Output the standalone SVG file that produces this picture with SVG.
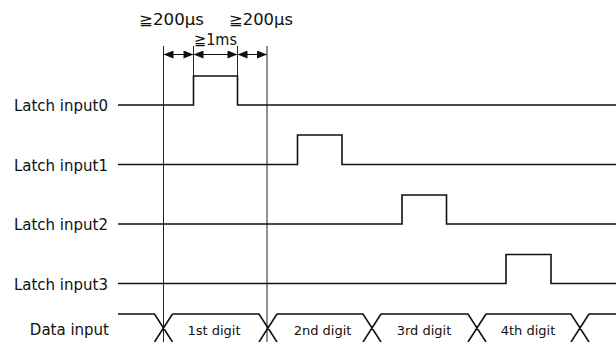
<svg xmlns="http://www.w3.org/2000/svg" width="616" height="342" viewBox="0 0 616 342">
<defs>
<style>
.sig{fill:none;stroke:#111;stroke-width:1.6}
.ref{fill:none;stroke:#222;stroke-width:1}
.arr{fill:none;stroke:#111;stroke-width:1;marker-start:url(#ah);marker-end:url(#ah)}
.lbl{font-family:"DejaVu Sans","Noto Sans CJK JP",sans-serif;font-size:15px;fill:#111;text-anchor:end}
.dig{font-family:"DejaVu Sans","Noto Sans CJK JP",sans-serif;font-size:13px;fill:#111;text-anchor:middle}
.tim{font-family:"DejaVu Sans","Noto Sans CJK JP",sans-serif;font-size:15px;fill:#111}
</style>
<marker id="ah" viewBox="0 0 10 8" refX="10" refY="4" markerWidth="10.5" markerHeight="8" markerUnits="userSpaceOnUse" orient="auto-start-reverse">
<path d="M0,0 L10,4 L0,8 Z" fill="#111"/>
</marker>
</defs>
<rect width="616" height="342" fill="#fff"/>
<g id="connectors">
<line class="ref" x1="163.5" y1="46" x2="163.5" y2="342"/>
<line class="ref" x1="267" y1="46" x2="267" y2="342"/>
<line class="ref" x1="193.5" y1="46" x2="193.5" y2="76"/>
<line class="ref" x1="237.5" y1="46" x2="237.5" y2="76"/>
<line class="arr" x1="163.5" y1="54.5" x2="193.5" y2="54.5"/>
<line class="arr" x1="193.5" y1="54.5" x2="237.5" y2="54.5"/>
<line class="arr" x1="237.5" y1="54.5" x2="267" y2="54.5"/>
</g>
<g id="timing-labels">
<text class="tim" x="139" y="25" textLength="65" lengthAdjust="spacingAndGlyphs">≧200μs</text>
<text class="tim" x="229" y="25" textLength="64" lengthAdjust="spacingAndGlyphs">≧200μs</text>
<text class="tim" x="194" y="45" textLength="43" lengthAdjust="spacingAndGlyphs">≧1ms</text>
</g>
<g id="latch0">
<text class="lbl" x="108" y="111">Latch input0</text>
<polyline class="sig" points="118,105 193.5,105 193.5,76 237.5,76 237.5,105 616,105"/>
</g>
<g id="latch1">
<text class="lbl" x="108" y="170.5">Latch input1</text>
<polyline class="sig" points="118,164.5 297.5,164.5 297.5,135 342,135 342,164.5 616,164.5"/>
</g>
<g id="latch2">
<text class="lbl" x="108" y="230">Latch input2</text>
<polyline class="sig" points="118,224 402,224 402,195 446.5,195 446.5,224 616,224"/>
</g>
<g id="latch3">
<text class="lbl" x="108" y="289.5">Latch input3</text>
<polyline class="sig" points="118,283.5 506,283.5 506,254.5 551,254.5 551,283.5 616,283.5"/>
</g>
<g id="data">
<text class="lbl" x="109" y="335">Data input</text>
<path class="sig" d="M118,314 H154.5 L172.5,342 M172.5,314 L154.5,342 M172.5,314 H259 L277,342 M277,314 L259,342 M277,314 H363 L381,342 M381,314 L363,342 M381,314 H468 L486,342 M486,314 L468,342 M486,314 H571 L589,342 M589,314 L571,342 M589,314 H616"/>
<text class="dig" x="214" y="335">1st digit</text>
<text class="dig" x="322.5" y="335">2nd digit</text>
<text class="dig" x="424" y="335">3rd digit</text>
<text class="dig" x="528" y="335">4th digit</text>
</g>
</svg>
